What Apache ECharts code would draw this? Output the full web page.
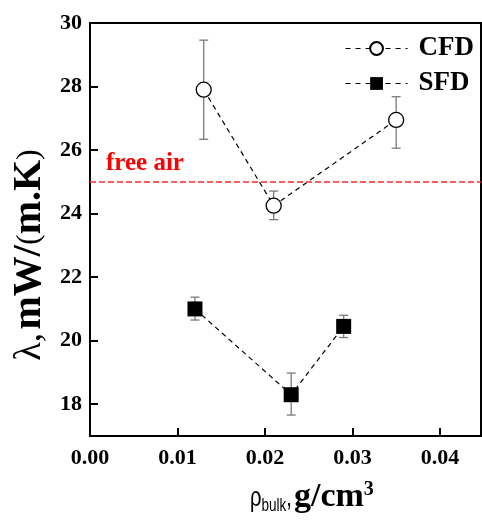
<!DOCTYPE html>
<html>
<head>
<meta charset="utf-8">
<script src="https://cdn.jsdelivr.net/npm/echarts@6/dist/echarts.min.js"></script>
<style>html,body{margin:0;padding:0;background:#fff}#c{width:482px;height:524px}</style>
</head>
<body>
<div id="c"></div>
<script>
// ---- data ----
const cfdX = [0.013, 0.021, 0.035];
const cfdY = [27.9, 24.25, 26.95];
const cfdHi = [29.46, 24.71, 27.68];
const cfdLo = [26.34, 23.81, 26.06];

const sfdX = [0.012, 0.023, 0.029];
const sfdY = [21.0, 18.3, 20.45];
const sfdHi = [21.37, 18.98, 20.80];
const sfdLo = [20.65, 17.66, 20.10];

const freeAir = 25;
const xTicks = [0, 0.01, 0.02, 0.03, 0.04];
const yTicks = [18, 20, 22, 24, 26, 28, 30];

const serif = '"Liberation Serif", "Times New Roman", serif';
const sans = '"Liberation Sans", Arial, sans-serif';

function pts(xs, ys) { return xs.map((x, i) => [x, ys[i]]); }
function errs(xs, lo, hi) { return xs.map((x, i) => [x, lo[i], hi[i]]); }

function errRender(params, api) {
  const x = api.value(0);
  const lo = api.coord([x, api.value(1)]);
  const hi = api.coord([x, api.value(2)]);
  const cw = 4.5;
  const st = { stroke: '#7a7a7a', lineWidth: 1.3 };
  return {
    type: 'group',
    children: [
      { type: 'line', shape: { x1: lo[0], y1: lo[1], x2: hi[0], y2: hi[1] }, style: st },
      { type: 'line', shape: { x1: lo[0] - cw, y1: lo[1], x2: lo[0] + cw, y2: lo[1] }, style: st },
      { type: 'line', shape: { x1: hi[0] - cw, y1: hi[1], x2: hi[0] + cw, y2: hi[1] }, style: st }
    ]
  };
}

const chart = echarts.init(document.getElementById('c'), null, { renderer: 'canvas' });
chart.setOption({
  animation: false,
  backgroundColor: '#fff',
  grid: { left: 90, top: 23, right: 1, bottom: 88, show: true, borderColor: '#000', borderWidth: 2 },
  xAxis: {
    type: 'value', min: 0, max: 0.0447,
    axisLine: { lineStyle: { color: '#000', width: 2 } },
    axisTick: { inside: true, length: 8, lineStyle: { color: '#000', width: 2 }, customValues: xTicks },
    axisLabel: { customValues: xTicks, margin: 11, color: '#000', fontFamily: serif, fontWeight: 'bold', fontSize: 22,
      formatter: v => v.toFixed(2) },
    splitLine: { show: false }
  },
  yAxis: {
    type: 'value', min: 17, max: 30,
    axisLine: { lineStyle: { color: '#000', width: 2 } },
    axisTick: { inside: true, length: 8, lineStyle: { color: '#000', width: 2 }, customValues: yTicks },
    axisLabel: { customValues: yTicks, margin: 8, color: '#000', fontFamily: serif, fontWeight: 'bold', fontSize: 22 },
    splitLine: { show: false }
  },
  legend: {
    data: ['CFD', 'SFD'], orient: 'vertical', left: 340, top: 30,
    itemWidth: 62, itemHeight: 16, itemGap: 8,
    lineStyle: { type: [5, 5], width: 1.1, color: '#000' },
    textStyle: { color: '#000', fontFamily: serif, fontWeight: 'bold', fontSize: 27, padding: [0, 0, 0, 6] }
  },
  series: [
    { name: 'errCFD', type: 'custom', renderItem: errRender, data: errs(cfdX, cfdLo, cfdHi), z: 1, silent: true },
    { name: 'errSFD', type: 'custom', renderItem: errRender, data: errs(sfdX, sfdLo, sfdHi), z: 1, silent: true },
    {
      name: 'CFD', type: 'line', data: pts(cfdX, cfdY), symbol: 'circle', symbolSize: 15,
      lineStyle: { color: '#000', width: 1.2, type: [5, 4] },
      itemStyle: { color: '#fff', borderColor: '#000', borderWidth: 1.3 }, z: 3
    },
    {
      name: 'SFD', type: 'line', data: pts(sfdX, sfdY), symbol: 'rect', symbolSize: 15,
      lineStyle: { color: '#000', width: 1.2, type: [5, 4] },
      itemStyle: { color: '#000', borderColor: '#000', borderWidth: 0 }, z: 3
    },
    {
      name: 'free air', type: 'line', data: [], z: 2,
      markLine: {
        silent: true, symbol: ['none', 'none'],
        lineStyle: { color: '#ff2a2a', width: 1.5, type: [6, 3] },
        label: { show: true, position: 'insideStartTop', formatter: 'free air', color: '#ff0000',
          fontFamily: serif, fontWeight: 'bold', fontSize: 25, distance: [16, 6] },
        data: [{ yAxis: freeAir }]
      }
    }
  ],
  graphic: [
    {
      type: 'text', x: 30, y: 255, rotation: Math.PI / 2,
      style: {
        text: '{l|λ,} {a|mW/}{p|(}{a|m.K}{p|)}',
        align: 'center', verticalAlign: 'middle',
        rich: {
          l: { fontFamily: serif, fontSize: 38, fill: '#000' },
          a: { fontFamily: serif, fontWeight: 'bold', fontSize: 40, fill: '#000' },
          p: { fontFamily: serif, fontSize: 32, fill: '#000' }
        }
      }
    },
    {
      type: 'text', x: 250, y: 499, scaleX: 0.75, scaleY: 1,
      style: {
        text: '{r|ρ}{s|bulk}{r|,}',
        align: 'left', verticalAlign: 'middle',
        rich: {
          r: { fontFamily: sans, fontSize: 27, fill: '#000', verticalAlign: 'middle' },
          s: { fontFamily: sans, fontSize: 18, fill: '#000', padding: [14, 0, 0, 0], verticalAlign: 'middle' }
        }
      }
    },
    {
      type: 'text', x: 294, y: 497,
      style: {
        text: '{g|g/cm}{t|3}',
        align: 'left', verticalAlign: 'middle',
        rich: {
          g: { fontFamily: serif, fontWeight: 'bold', fontSize: 34, fill: '#000', verticalAlign: 'middle' },
          t: { fontFamily: serif, fontWeight: 'bold', fontSize: 20, fill: '#000', padding: [0, 0, 14, 0], verticalAlign: 'middle' }
        }
      }
    }
  ]
});
</script>
</body>
</html>
